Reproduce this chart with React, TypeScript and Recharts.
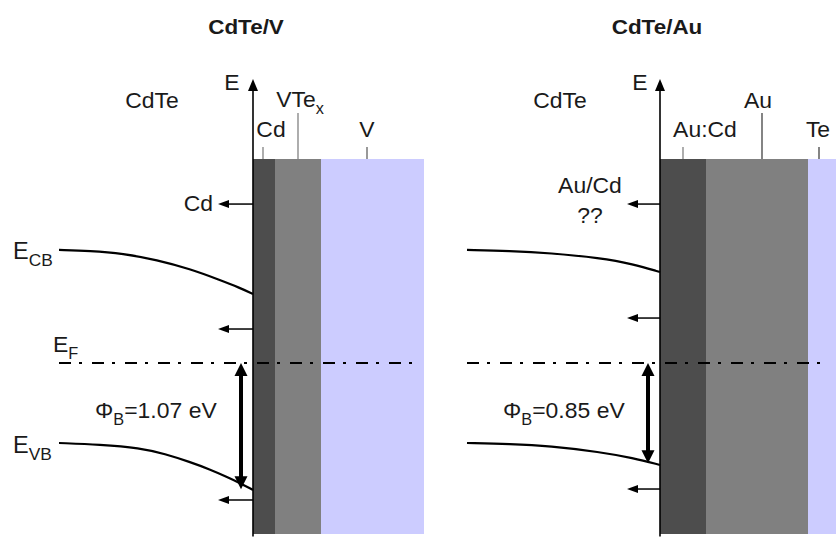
import React from "react";
import {
  ComposedChart,
  XAxis,
  YAxis,
  Line,
  ReferenceArea,
  ReferenceLine,
  Scatter,
} from "recharts";

// ---------- shared scales ----------
// Energy (eV) relative to the Fermi level E_F = 0
const energyDomain: [number, number] = [-1.4746, 3.0763];
const layerTop = 1.729;
const layerBottom = -1.449;
const axisBottom = -1.47;
const axisTop = 2.407;

// ---------- CdTe/V panel ----------
const vDepthDomain: [number, number] = [-25.3, 17.1];
const vLayerNames = ["Cd", "VTe_x", "V"];
const vLayerBounds = [0, 2.2, 6.8, 17.1];
const vTickX = [1.0, 4.5, 11.4];
const vTickTop = [1.831, 2.119, 1.831];
const vCB = [
  { x: -19.4, y: 0.958 },
  { x: -16.3, y: 0.951 },
  { x: -13.0, y: 0.928 },
  { x: -9.6, y: 0.873 },
  { x: -6.3, y: 0.797 },
  { x: -3.3, y: 0.703 },
  { x: -1.3, y: 0.636 },
  { x: 0, y: 0.585 },
];
const vVB = [
  { x: -19.4, y: -0.678 },
  { x: -15.3, y: -0.691 },
  { x: -11.3, y: -0.72 },
  { x: -8.8, y: -0.771 },
  { x: -6.3, y: -0.839 },
  { x: -4.3, y: -0.902 },
  { x: -2.6, y: -0.966 },
  { x: -1.3, y: -1.017 },
  { x: 0, y: -1.076 },
];
const vDiffusionArrows = [1.347, 0.288, -1.161];
const vArrowTip = -3.5;
const vBarrier = 1.07;
const vBarrierX = -1.2;
const vFermiRange = [-19.4, 16.2];
const vLabels = [
  { x: -0.7, y: 2.788, text: "CdTe/V", kind: "title", anchor: "middle" },
  { x: -2.1, y: 2.314, text: "E", kind: "label", anchor: "middle" },
  { x: -10.1, y: 2.161, text: "CdTe", kind: "label", anchor: "middle" },
  { x: 4.7, y: 2.169, text: "VTe", sub: "x", kind: "label", anchor: "middle" },
  { x: 1.8, y: 1.915, text: "Cd", kind: "label", anchor: "middle" },
  { x: 11.4, y: 1.915, text: "V", kind: "label", anchor: "middle" },
  { x: -4.0, y: 1.288, text: "Cd", kind: "label", anchor: "end" },
  { x: -24.0, y: 0.881, text: "E", sub: "CB", kind: "band", anchor: "start" },
  { x: -20.0, y: 0.093, text: "E", sub: "F", kind: "label", anchor: "start" },
  { x: -15.8, y: -0.466, text: "\u03A6", sub: "B", tail: "=1.07 eV", kind: "label", anchor: "start" },
  { x: -24.0, y: -0.763, text: "E", sub: "VB", kind: "band", anchor: "start" },
];

// ---------- CdTe/Au panel ----------
const auDepthDomain: [number, number] = [-23.6, 17.6];
const auLayerNames = ["Au:Cd", "Au", "Te"];
const auLayerBounds = [0, 4.6, 14.8, 17.6];
const auTickX = [2.3, 10.2, 15.9];
const auTickTop = [1.831, 2.119, 1.831];
const auCB = [
  { x: -19.3, y: 0.958 },
  { x: -15.0, y: 0.95 },
  { x: -11.0, y: 0.932 },
  { x: -6.0, y: 0.89 },
  { x: -2.7, y: 0.839 },
  { x: 0, y: 0.771 },
];
const auVB = [
  { x: -19.3, y: -0.678 },
  { x: -15.0, y: -0.686 },
  { x: -11.0, y: -0.703 },
  { x: -6.0, y: -0.754 },
  { x: -2.7, y: -0.805 },
  { x: 0, y: -0.864 },
];
const auDiffusionArrows = [1.347, 0.381, -1.068];
const auArrowTip = -3.3;
const auBarrier = 0.85;
const auBarrierX = -1.2;
const auFermiRange = [-19.3, 16.3];
const auLabels = [
  { x: -0.3, y: 2.788, text: "CdTe/Au", kind: "title", anchor: "middle" },
  { x: -2.0, y: 2.314, text: "E", kind: "label", anchor: "middle" },
  { x: -10.0, y: 2.161, text: "CdTe", kind: "label", anchor: "middle" },
  { x: 9.8, y: 2.161, text: "Au", kind: "label", anchor: "middle" },
  { x: 4.5, y: 1.915, text: "Au:Cd", kind: "label", anchor: "middle" },
  { x: 15.8, y: 1.915, text: "Te", kind: "label", anchor: "middle" },
  { x: -7.0, y: 1.441, text: "Au/Cd", kind: "label", anchor: "middle" },
  { x: -7.0, y: 1.186, text: "??", kind: "label", anchor: "middle" },
  { x: -15.7, y: -0.466, text: "\u03A6", sub: "B", tail: "=0.85 eV", kind: "label", anchor: "start" },
];

// ---------- styles ----------
const FONT = "'Liberation Sans', Arial, Helvetica, sans-serif";
const layerColors = ["#4d4d4d", "#808080", "#ccccff"];
const auLayerColors = ["#4d4d4d", "#808080", "#ccccff"];
const textStyle: Record<string, { size: number; weight: string; sx: number; sub: number }> = {
  title: { size: 21, weight: "bold", sx: 1.07, sub: 0.7 },
  label: { size: 22.5, weight: "normal", sx: 1.02, sub: 0.7 },
  band: { size: 23, weight: "normal", sx: 1.02, sub: 0.74 },
};

const arrowShape =
  (shaft: number, headLen: number, headHalf: number, both = false) =>
  (p: any) => {
    const { x1, y1, x2, y2 } = p;
    const dx = x2 - x1;
    const dy = y2 - y1;
    const L = Math.hypot(dx, dy) || 1;
    const ux = dx / L;
    const uy = dy / L;
    const nx = -uy;
    const ny = ux;
    const head = (tx: number, ty: number, sx: number, sy: number) => {
      const bx = tx - sx * headLen;
      const by = ty - sy * headLen;
      return `${tx},${ty} ${bx + nx * headHalf},${by + ny * headHalf} ${bx - nx * headHalf},${by - ny * headHalf}`;
    };
    const inset = headLen - 2;
    return (
      <g>
        <line
          x1={both ? x1 + ux * inset : x1}
          y1={both ? y1 + uy * inset : y1}
          x2={x2 - ux * inset}
          y2={y2 - uy * inset}
          stroke="#000"
          strokeWidth={shaft}
        />
        <polygon points={head(x2, y2, ux, uy)} fill="#000" />
        {both && <polygon points={head(x1, y1, -ux, -uy)} fill="#000" />}
      </g>
    );
  };

const LabelShape = (props: any) => {
  const { cx, cy, payload } = props;
  const st = textStyle[payload.kind] || textStyle.label;
  const subSize = Math.round(st.size * st.sub);
  const drop = Math.round(st.size * 0.3);
  return (
    <text
      transform={`translate(${cx},${cy}) scale(${st.sx},1)`}
      x={0}
      y={0}
      textAnchor={payload.anchor}
      fontFamily={FONT}
      fontSize={st.size}
      fontWeight={st.weight}
      fill="#1a1a1a"
    >
      <tspan>{payload.text}</tspan>
      {payload.sub && (
        <tspan dy={drop} fontSize={subSize}>
          {payload.sub}
        </tspan>
      )}
      {payload.tail && <tspan dy={-drop}>{payload.tail}</tspan>}
    </text>
  );
};

type PanelProps = {
  width: number;
  left: number;
  depthDomain: [number, number];
  layerNames: string[];
  layerBounds: number[];
  colors: string[];
  tickX: number[];
  tickTop: number[];
  tickColors: string[];
  cb: { x: number; y: number }[];
  vb: { x: number; y: number }[];
  arrows: number[];
  arrowTip: number;
  barrier: number;
  barrierX: number;
  fermi: number[];
  labels: any[];
};

const Panel = (p: PanelProps) => (
  <div style={{ position: "absolute", left: p.left, top: 0 }}>
    <ComposedChart
      width={p.width}
      height={537}
      margin={{ top: 0, right: 0, bottom: 0, left: 0 }}
    >
      <XAxis
        type="number"
        dataKey="x"
        domain={p.depthDomain}
        allowDataOverflow
        hide
      />
      <YAxis
        type="number"
        dataKey="y"
        domain={energyDomain}
        allowDataOverflow
        hide
      />
      {p.layerNames.map((n, i) => (
        <ReferenceArea
          key={n}
          x1={p.layerBounds[i]}
          x2={p.layerBounds[i + 1]}
          y1={layerBottom}
          y2={layerTop}
          fill={p.colors[i]}
          fillOpacity={1}
          stroke="none"
          ifOverflow="visible"
        />
      ))}
      {p.tickX.map((tx, i) => (
        <ReferenceLine
          key={"t" + i}
          segment={[
            { x: tx, y: layerTop },
            { x: tx, y: p.tickTop[i] },
          ]}
          stroke={p.tickColors[i]}
          strokeWidth={1.2}
          ifOverflow="visible"
        />
      ))}
      <Line
        data={p.cb}
        dataKey="y"
        type="basis"
        stroke="#000"
        strokeWidth={2.2}
        dot={false}
        activeDot={false}
        isAnimationActive={false}
      />
      <Line
        data={p.vb}
        dataKey="y"
        type="basis"
        stroke="#000"
        strokeWidth={2.2}
        dot={false}
        activeDot={false}
        isAnimationActive={false}
      />
      <ReferenceLine
        segment={[
          { x: p.fermi[0], y: 0 },
          { x: p.fermi[1], y: 0 },
        ]}
        stroke="#000"
        strokeWidth={2}
        strokeDasharray="12 8 3 10"
        ifOverflow="visible"
      />
      <ReferenceLine
        segment={[
          { x: 0, y: axisBottom },
          { x: 0, y: axisTop },
        ]}
        shape={arrowShape(1.6, 12, 5)}
        ifOverflow="visible"
      />
      {p.arrows.map((ay, i) => (
        <ReferenceLine
          key={"a" + i}
          segment={[
            { x: 0, y: ay },
            { x: p.arrowTip, y: ay },
          ]}
          shape={arrowShape(1.5, 11, 4)}
          ifOverflow="visible"
        />
      ))}
      <ReferenceLine
        segment={[
          { x: p.barrierX, y: 0 },
          { x: p.barrierX, y: -p.barrier },
        ]}
        shape={arrowShape(4, 13, 6.5, true)}
        ifOverflow="visible"
      />
      <Scatter
        data={p.labels}
        shape={LabelShape}
        isAnimationActive={false}
      />
    </ComposedChart>
  </div>
);

export default function App() {
  return (
    <div
      style={{
        position: "absolute",
        left: 0,
        top: 0,
        width: 836,
        height: 537,
        background: "#fff",
        overflow: "hidden",
      }}
    >
      <Panel
        width={424}
        left={0}
        depthDomain={vDepthDomain}
        layerNames={vLayerNames}
        layerBounds={vLayerBounds}
        colors={layerColors}
        tickX={vTickX}
        tickTop={vTickTop}
        tickColors={["#777", "#777", "#555"]}
        cb={vCB}
        vb={vVB}
        arrows={vDiffusionArrows}
        arrowTip={vArrowTip}
        barrier={vBarrier}
        barrierX={vBarrierX}
        fermi={vFermiRange}
        labels={vLabels}
      />
      <Panel
        width={412}
        left={424}
        depthDomain={auDepthDomain}
        layerNames={auLayerNames}
        layerBounds={auLayerBounds}
        colors={auLayerColors}
        tickX={auTickX}
        tickTop={auTickTop}
        tickColors={["#777", "#333", "#333"]}
        cb={auCB}
        vb={auVB}
        arrows={auDiffusionArrows}
        arrowTip={auArrowTip}
        barrier={auBarrier}
        barrierX={auBarrierX}
        fermi={auFermiRange}
        labels={auLabels}
      />
    </div>
  );
}
